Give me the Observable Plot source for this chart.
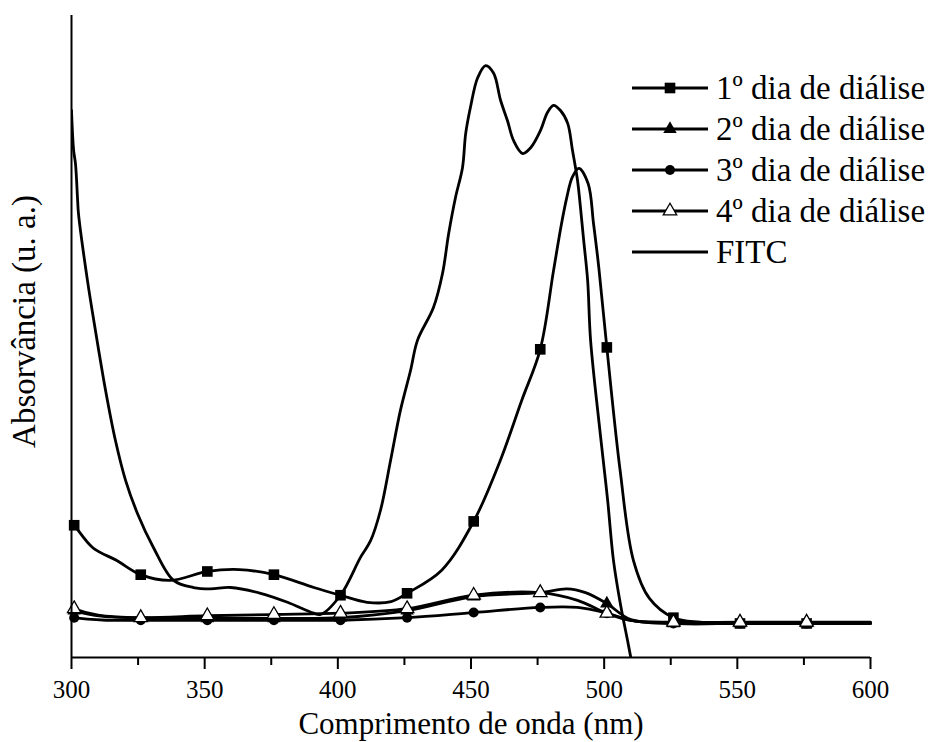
<!DOCTYPE html>
<html><head><meta charset="utf-8">
<script src="https://cdn.jsdelivr.net/npm/d3@7"></script>
<script src="https://cdn.jsdelivr.net/npm/@observablehq/plot@0.6"></script>
<style>
body{margin:0;background:#fff;}
#wrap{position:relative;width:931px;height:742px;}
#wrap svg.legend{position:absolute;left:0;top:0;pointer-events:none;}
</style></head><body><div id="wrap"></div>
<script>
const seriesNames = ["1º dia de diálise","2º dia de diálise","3º dia de diálise","4º dia de diálise","FITC"];
const xTitle = "Comprimento de onda (nm)";
const yTitle = "Absorvância (u. a.)";
const xTicks = [300,350,400,450,500,550,600];
const xMinorTicks = [325,375,425,475,525,575];
const markerWavelengths = [301,326,351,376,401,426,451,476,501,526,551,576];

const day1 = [[300,0.210],[301,0.206],[308,0.171],[317,0.151],[326,0.129],[337,0.120],[351,0.134],[363,0.137],[376,0.129],[391,0.109],[401,0.097],[411,0.086],[420,0.087],[426,0.100],[439,0.136],[451,0.212],[461,0.307],[469,0.400],[476,0.480],[481,0.603],[484,0.676],[486,0.717],[488,0.748],[490.5,0.762],[494,0.738],[496,0.676],[498,0.607],[501,0.483],[506,0.291],[511,0.151],[517,0.092],[526,0.062],[536,0.055],[551,0.053],[576,0.053],[600,0.053]];
const day2 = [[300,0.075],[301,0.073],[312,0.064],[326,0.062],[351,0.061],[376,0.061],[401,0.062],[426,0.073],[451,0.095],[476,0.101],[486,0.107],[493,0.101],[501,0.084],[510,0.059],[526,0.053],[551,0.053],[576,0.053],[600,0.053]];
const day3 = [[300,0.063],[301,0.062],[313,0.058],[326,0.058],[351,0.058],[376,0.058],[401,0.058],[426,0.062],[451,0.070],[476,0.078],[490,0.078],[501,0.069],[510,0.058],[526,0.053],[551,0.053],[576,0.053],[600,0.053]];
const day4 = [[300,0.078],[301,0.076],[310,0.066],[326,0.062],[351,0.065],[376,0.067],[401,0.069],[426,0.076],[451,0.097],[476,0.101],[490,0.089],[501,0.069],[510,0.058],[526,0.055],[551,0.055],[576,0.055],[600,0.055]];
const fitc = [[300,0.852],[300.8,0.790],[301.5,0.769],[302.3,0.712],[302.6,0.692],[306,0.587],[309,0.509],[312.8,0.416],[316.5,0.338],[320.3,0.276],[324.8,0.224],[330.8,0.171],[338.3,0.120],[345.8,0.109],[352.2,0.107],[359.7,0.109],[371,0.100],[381.1,0.086],[390.9,0.069],[393.5,0.067],[401,0.097],[408.5,0.156],[412.3,0.182],[416,0.229],[419.8,0.307],[423.5,0.385],[427.3,0.447],[429.9,0.494],[435.9,0.545],[439.3,0.598],[441.6,0.660],[444.2,0.717],[446.8,0.763],[448,0.816],[449.8,0.857],[452.5,0.903],[455.5,0.922],[458.5,0.910],[461.1,0.868],[463.7,0.836],[466,0.805],[469.4,0.785],[472.4,0.794],[476.1,0.821],[478.7,0.849],[481,0.860],[483.6,0.852],[486.3,0.832],[488.1,0.790],[490,0.743],[491.1,0.701],[492.3,0.650],[493.8,0.587],[494.9,0.494],[498.6,0.346],[501.3,0.245],[503.5,0.151],[506.2,0.081],[508.8,0.026],[510,0.000]];

const allSeries = [day1, day2, day3, day4, fitc];
const rows = [];
allSeries.forEach((arr, i) => arr.forEach(([x, y]) => rows.push({series: seriesNames[i], x, y})));
const markersOf = name => rows.filter(d => d.series === name && markerWavelengths.includes(d.x));
const serif = '"Liberation Serif", "Times New Roman", Times, "DejaVu Serif", serif';

const chart = Plot.plot({
  width: 931, height: 742,
  marginTop: 15, marginBottom: 85, marginLeft: 71, marginRight: 61,
  style: {fontFamily: serif, background: "white", color: "black"},
  x: {domain: [300, 600]},
  y: {domain: [0, 1], axis: null},
  marks: [
    Plot.line(rows.filter(d => d.series !== "FITC"), {x: "x", y: "y", z: "series", stroke: "black", strokeWidth: 2.8, curve: "catmull-rom"}),
    Plot.line(rows.filter(d => d.series === "FITC"), {x: "x", y: "y", stroke: "black", strokeWidth: 2.8, curve: "catmull-rom", clip: true}),
    Plot.dot(markersOf(seriesNames[0]), {x: "x", y: "y", symbol: "square", fill: "black", r: 6}),
    Plot.dot(markersOf(seriesNames[1]), {x: "x", y: "y", symbol: "triangle", fill: "black", r: 5}),
    Plot.dot(markersOf(seriesNames[2]), {x: "x", y: "y", symbol: "circle", fill: "black", r: 5}),
    Plot.dot(markersOf(seriesNames[3]), {x: "x", y: "y", symbol: "triangle", fill: "white", stroke: "black", strokeWidth: 1.3, r: 5}),
    Plot.ruleX([300], {stroke: "black", strokeWidth: 2}),
    Plot.ruleY([0], {stroke: "black", strokeWidth: 2}),
    Plot.axisX({ticks: xTicks, tickSize: 12, tickPadding: 11, fontSize: 25, strokeWidth: 2, label: null}),
    Plot.axisX({ticks: xMinorTicks, tickSize: 8, tickFormat: () => "", strokeWidth: 2, label: null}),
    Plot.text([yTitle], {text: d => d, frameAnchor: "left", textAnchor: "middle", lineAnchor: "middle", rotate: -90, dx: -47, dy: -15, fontSize: 33, fill: "black"}),
    Plot.text([xTitle], {text: d => d, frameAnchor: "bottom", textAnchor: "middle", lineAnchor: "middle", dy: 67, fontSize: 31, fill: "black"})
  ]
});
const wrap = document.getElementById("wrap");
wrap.appendChild(chart);

// Legend overlay
const legendSymbols = [
  {type: d3.symbolSquare, r: 6, fill: "black"},
  {type: d3.symbolTriangle, r: 5, fill: "black"},
  {type: d3.symbolCircle, r: 5, fill: "black"},
  {type: d3.symbolTriangle, r: 5, fill: "white"},
  null
];
const lg = d3.create("svg").attr("class", "legend").attr("width", 931).attr("height", 742)
  .style("font-family", serif);
seriesNames.forEach((name, i) => {
  const cy = 88 + 41 * i;
  const g = lg.append("g").attr("transform", `translate(0,${cy})`);
  g.append("line").attr("x1", 632).attr("x2", 708).attr("y1", 0).attr("y2", 0).attr("stroke", "black").attr("stroke-width", 2.8);
  const s = legendSymbols[i];
  if (s) {
    g.append("path").attr("transform", "translate(670,0)")
      .attr("d", d3.symbol(s.type, Math.PI * s.r * s.r)())
      .attr("fill", s.fill).attr("stroke", "black").attr("stroke-width", s.fill === "white" ? 1.3 : 0);
  }
  g.append("text").attr("x", 716).attr("y", 11).attr("font-size", 33).attr("fill", "black").text(name);
});
wrap.appendChild(lg.node());
</script></body></html>
